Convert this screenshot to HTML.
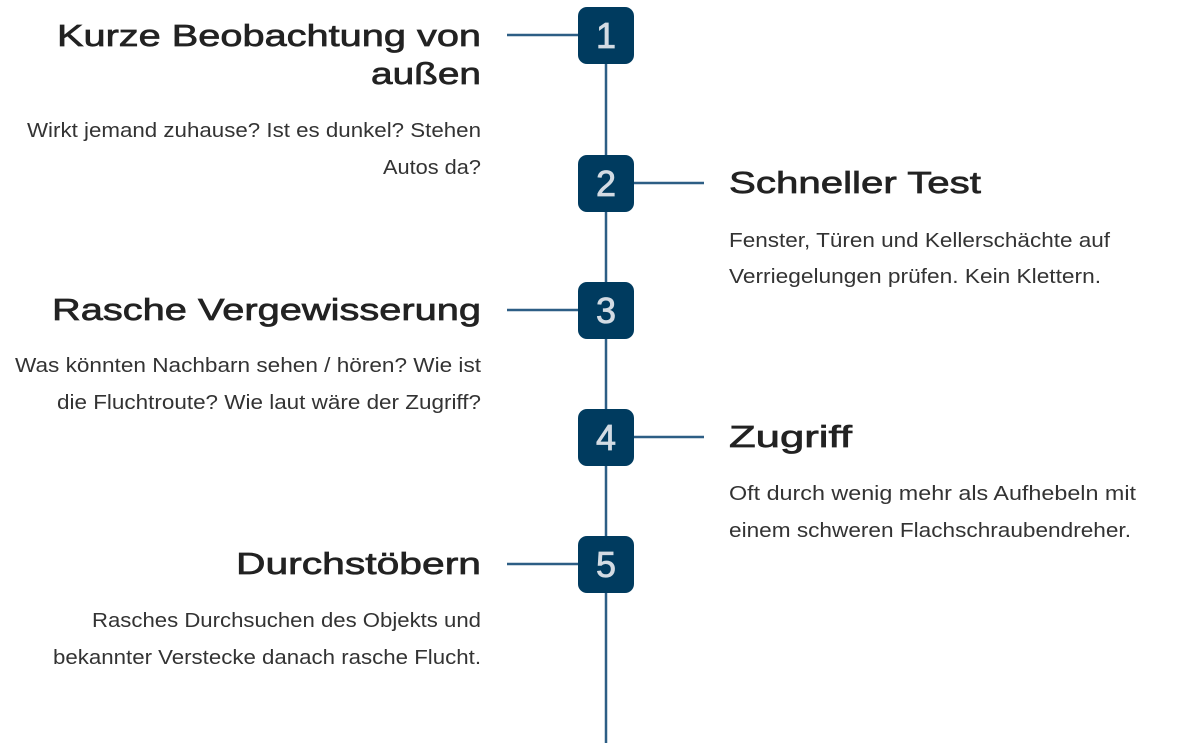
<!DOCTYPE html>
<html><head><meta charset="utf-8"><style>
html,body{margin:0;padding:0;background:#fff;width:1200px;height:743px;overflow:hidden}
svg{display:block}
.h{font-family:"Liberation Sans",sans-serif;font-size:31px;fill:#222;stroke:#222;stroke-width:0.7}
.b{font-family:"Liberation Sans",sans-serif;font-size:20px;fill:#333}
.n{font-family:"Liberation Sans",sans-serif;font-size:36px;fill:#d3dbe3;stroke:#d3dbe3;stroke-width:0.8}
</style></head><body>
<svg width="1200" height="743" viewBox="0 0 1200 743">
<g stroke="#2d5e85" stroke-width="2.5">
<line x1="606" y1="30" x2="606" y2="743"/>
<line x1="507" y1="35" x2="580" y2="35"/>
<line x1="632" y1="183" x2="704" y2="183"/>
<line x1="507" y1="310" x2="580" y2="310"/>
<line x1="632" y1="437" x2="704" y2="437"/>
<line x1="507" y1="564" x2="580" y2="564"/>
</g>
<g fill="#003b5f">
<rect x="578" y="7" width="56" height="57" rx="9"/>
<rect x="578" y="155" width="56" height="57" rx="9"/>
<rect x="578" y="282" width="56" height="57" rx="9"/>
<rect x="578" y="409" width="56" height="57" rx="9"/>
<rect x="578" y="536" width="56" height="57" rx="9"/>
</g>
<g class="n" text-anchor="middle">
<text x="606" y="48">1</text>
<text x="606" y="196">2</text>
<text x="606" y="323">3</text>
<text x="606" y="450">4</text>
<text x="606" y="577">5</text>
</g>
<g class="h">
<text x="57" y="46" textLength="424" lengthAdjust="spacingAndGlyphs">Kurze Beobachtung von</text>
<text x="371" y="84" textLength="110" lengthAdjust="spacingAndGlyphs">außen</text>
<text x="729" y="193" textLength="252" lengthAdjust="spacingAndGlyphs">Schneller Test</text>
<text x="52" y="320" textLength="429" lengthAdjust="spacingAndGlyphs">Rasche Vergewisserung</text>
<text x="729" y="447" textLength="123" lengthAdjust="spacingAndGlyphs">Zugriff</text>
<text x="236" y="574" textLength="245" lengthAdjust="spacingAndGlyphs">Durchstöbern</text>
</g>
<g class="b">
<text x="27" y="137" textLength="454" lengthAdjust="spacingAndGlyphs">Wirkt jemand zuhause? Ist es dunkel? Stehen</text>
<text x="383" y="174" textLength="98" lengthAdjust="spacingAndGlyphs">Autos da?</text>
<text x="729" y="247" textLength="381" lengthAdjust="spacingAndGlyphs">Fenster, Türen und Kellerschächte auf</text>
<text x="729" y="283" textLength="372" lengthAdjust="spacingAndGlyphs">Verriegelungen prüfen. Kein Klettern.</text>
<text x="15" y="372" textLength="466" lengthAdjust="spacingAndGlyphs">Was könnten Nachbarn sehen / hören? Wie ist</text>
<text x="57" y="409" textLength="424" lengthAdjust="spacingAndGlyphs">die Fluchtroute? Wie laut wäre der Zugriff?</text>
<text x="729" y="500" textLength="407" lengthAdjust="spacingAndGlyphs">Oft durch wenig mehr als Aufhebeln mit</text>
<text x="729" y="537" textLength="402" lengthAdjust="spacingAndGlyphs">einem schweren Flachschraubendreher.</text>
<text x="92" y="627" textLength="389" lengthAdjust="spacingAndGlyphs">Rasches Durchsuchen des Objekts und</text>
<text x="53" y="664" textLength="428" lengthAdjust="spacingAndGlyphs">bekannter Verstecke danach rasche Flucht.</text>
</g>
</svg>
</body></html>
